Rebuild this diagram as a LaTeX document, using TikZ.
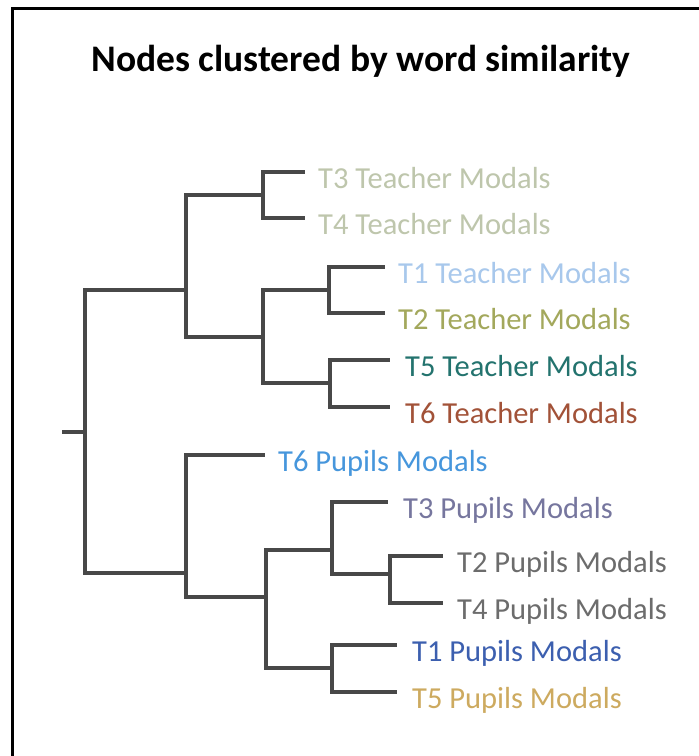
\documentclass[tikz,border=0pt]{standalone}
\usepackage{fontspec}
\setmainfont{Carlito}
\definecolor{cTa}{RGB}{190,198,172}
\definecolor{cTone}{RGB}{168,200,236}
\definecolor{cTtwo}{RGB}{163,168,92}
\definecolor{cTfive}{RGB}{35,115,110}
\definecolor{cTsix}{RGB}{162,82,56}
\definecolor{cPsix}{RGB}{70,150,220}
\definecolor{cPthree}{RGB}{118,118,158}
\definecolor{cPgrey}{RGB}{108,108,108}
\definecolor{cPone}{RGB}{60,95,175}
\definecolor{cPfive}{RGB}{205,170,95}
\definecolor{branch}{RGB}{72,72,72}
\begin{document}
\begin{tikzpicture}[x=1pt,y=-1pt,
  leaf/.style={anchor=base west,inner sep=0pt,font=\fontsize{30.5}{36}\selectfont},
  tree/.style={draw=branch,line width=3.4pt,line join=miter},
  frame/.style={draw=black,line width=3pt}]
\useasboundingbox (0,0) rectangle (699,756);
\fill[white] (0,0) rectangle (699,756);
\draw[frame] (12,756) -- (12,8) -- (699,8);
\node[anchor=base,inner sep=0pt,font=\fontsize{37.5}{44}\selectfont\bfseries] (title) at (361,71) {Nodes clustered by word similarity};
% junctions
\coordinate (stub) at (62,432);
\coordinate (root) at (85,432);
\coordinate (jE) at (186,290);
\coordinate (jA) at (263,195);
\coordinate (jD) at (263,337);
\coordinate (jB) at (329,290);
\coordinate (jC) at (330,383);
\coordinate (jF) at (186,573);
\coordinate (jG) at (266,597);
\coordinate (jH) at (332,550);
\coordinate (jI) at (390,574);
\coordinate (jJ) at (332,668);
% leaf ends
\coordinate (eT3T) at (305,172);
\coordinate (eT4T) at (305,218);
\coordinate (eT1T) at (385,267);
\coordinate (eT2T) at (385,313);
\coordinate (eT5T) at (390,360);
\coordinate (eT6T) at (390,407);
\coordinate (eT6P) at (265,455);
\coordinate (eT3P) at (388,502);
\coordinate (eT2P) at (443,556);
\coordinate (eT4P) at (443,603);
\coordinate (eT1P) at (397,645);
\coordinate (eT5P) at (397,692);
% labels
\node[leaf,text=cTa] (T3T) at (318,188) {T3 Teacher Modals};
\node[leaf,text=cTa] (T4T) at (318,234) {T4 Teacher Modals};
\node[leaf,text=cTone] (T1T) at (398,283) {T1 Teacher Modals};
\node[leaf,text=cTtwo] (T2T) at (398,329) {T2 Teacher Modals};
\node[leaf,text=cTfive] (T5T) at (405,376) {T5 Teacher Modals};
\node[leaf,text=cTsix] (T6T) at (405,423) {T6 Teacher Modals};
\node[leaf,text=cPsix] (T6P) at (278,471) {T6 Pupils Modals};
\node[leaf,text=cPthree] (T3P) at (403,518) {T3 Pupils Modals};
\node[leaf,text=cPgrey] (T2P) at (457,572) {T2 Pupils Modals};
\node[leaf,text=cPgrey] (T4P) at (457,619) {T4 Pupils Modals};
\node[leaf,text=cPone] (T1P) at (412,661) {T1 Pupils Modals};
\node[leaf,text=cPfive] (T5P) at (412,708) {T5 Pupils Modals};
% tree
\draw[tree] (stub) -- (root);
\draw[tree] (root) |- (jE);
\draw[tree] (root) |- (jF);
\draw[tree] (jE) |- (jA);
\draw[tree] (jE) |- (jD);
\draw[tree] (jA) |- (eT3T);
\draw[tree] (jA) |- (eT4T);
\draw[tree] (jD) |- (jB);
\draw[tree] (jD) |- (jC);
\draw[tree] (jB) |- (eT1T);
\draw[tree] (jB) |- (eT2T);
\draw[tree] (jC) |- (eT5T);
\draw[tree] (jC) |- (eT6T);
\draw[tree] (jF) |- (eT6P);
\draw[tree] (jF) |- (jG);
\draw[tree] (jG) |- (jH);
\draw[tree] (jG) |- (jJ);
\draw[tree] (jH) |- (eT3P);
\draw[tree] (jH) |- (jI);
\draw[tree] (jI) |- (eT2P);
\draw[tree] (jI) |- (eT4P);
\draw[tree] (jJ) |- (eT1P);
\draw[tree] (jJ) |- (eT5P);
\end{tikzpicture}
\end{document}
